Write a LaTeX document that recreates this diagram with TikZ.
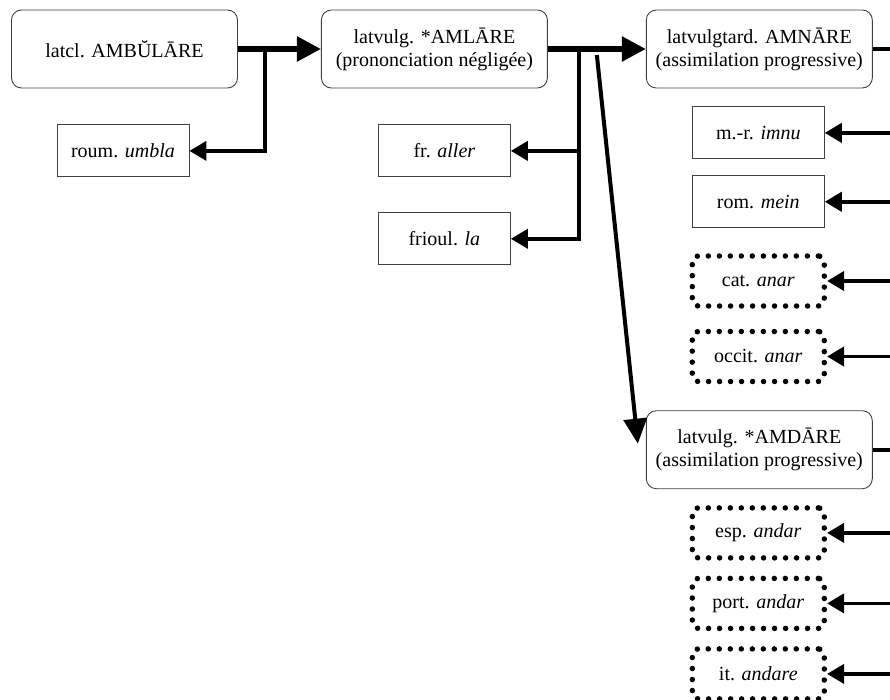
\documentclass[tikz,border=0pt]{standalone}
\usepackage{fontspec}
\setmainfont{Liberation Serif}
\usetikzlibrary{positioning, arrows.meta, calc}

\tikzset{
  stage/.style={draw=black!75, line width=0.9pt, rounded corners=10pt, align=center,
                minimum width=226pt, minimum height=78pt},
  form/.style={draw=black!75, line width=0.9pt, minimum width=132pt, minimum height=52pt},
  lost/.style={draw, line width=5.5pt, line cap=round, dash pattern=on 0pt off 11pt,
               rounded corners=6pt, minimum width=132pt, minimum height=50pt},
  trunk/.style={line width=5.5pt, -{Triangle[length=24pt,width=24pt]}},
  branch/.style={line width=3.8pt, -{Triangle[length=17pt,width=19pt]}},
  slant/.style={line width=4pt, -{Triangle[length=25pt,width=23pt]}},
  exit/.style={line width=4pt}
}

\begin{document}
\begin{tikzpicture}[x=1pt, y=-1pt, font=\fontsize{20}{23}\selectfont]
    \clip (0,0) rectangle (890,700);

    \node[stage] (ambulare) at (124.5,49) {latcl. AMBŬLĀRE};
    \node[stage, right=83pt of ambulare] (amlare)
          {latvulg. *AMLĀRE\\(prononciation négligée)};
    \node[stage, right=98pt of amlare] (amnare)
          {latvulgtard. AMNĀRE\\(assimilation progressive)};
    \node[form, below=36pt of ambulare, xshift=-1.5pt] (roum) {roum. \textit{umbla}};
    \node[form, below=36pt of amlare, xshift=10pt] (fr) {fr. \textit{aller}};
    \node[form, below=35pt of fr] (frioul) {frioul. \textit{la}};
    \node[form, below=18pt of amnare, xshift=-1pt] (mr) {m.-r. \textit{imnu}};
    \node[form, below=16pt of mr] (rom) {rom. \textit{mein}};
    \node[lost, below=25pt of rom] (cat) {cat. \textit{anar}};
    \node[lost, below=20pt of cat] (occit) {occit. \textit{anar}};
    \node[stage, below=26pt of occit, xshift=1pt] (amdare)
          {latvulg. *AMDĀRE\\(assimilation progressive)};
    \node[lost, below=16pt of amdare, xshift=-1pt] (esp) {esp. \textit{andar}};
    \node[lost, below=15pt of esp] (port) {port. \textit{andar}};
    \node[lost, below=15pt of port] (it) {it. \textit{andare}};

    \coordinate (j1) at ($(ambulare.east)+(27,0)$);
    \coordinate (j2) at ($(amlare.east)+(31,0)$);
    \coordinate (j3) at ($(amlare.east)+(49,6)$);
    \coordinate (edge) at (905,0);

    \draw[trunk] (ambulare) -- (amlare);
    \draw[branch] (j1) |- (roum);
    \draw[trunk] (amlare) -- (amnare);
    \draw[branch] (j2) |- (fr);
    \draw[branch] (j2) |- (frioul);
    \draw[slant] (j3) -- ($(amdare.west)+(-8,-6)$);

    \draw[exit] (amnare) -- (amnare -| edge);
    \foreach \n in {mr, rom, cat, occit}
        \draw[branch] (\n -| edge) -- (\n);
    \draw[exit] (amdare) -- (amdare -| edge);
    \foreach \n in {esp, port, it}
        \draw[branch] (\n -| edge) -- (\n);
\end{tikzpicture}
\end{document}
